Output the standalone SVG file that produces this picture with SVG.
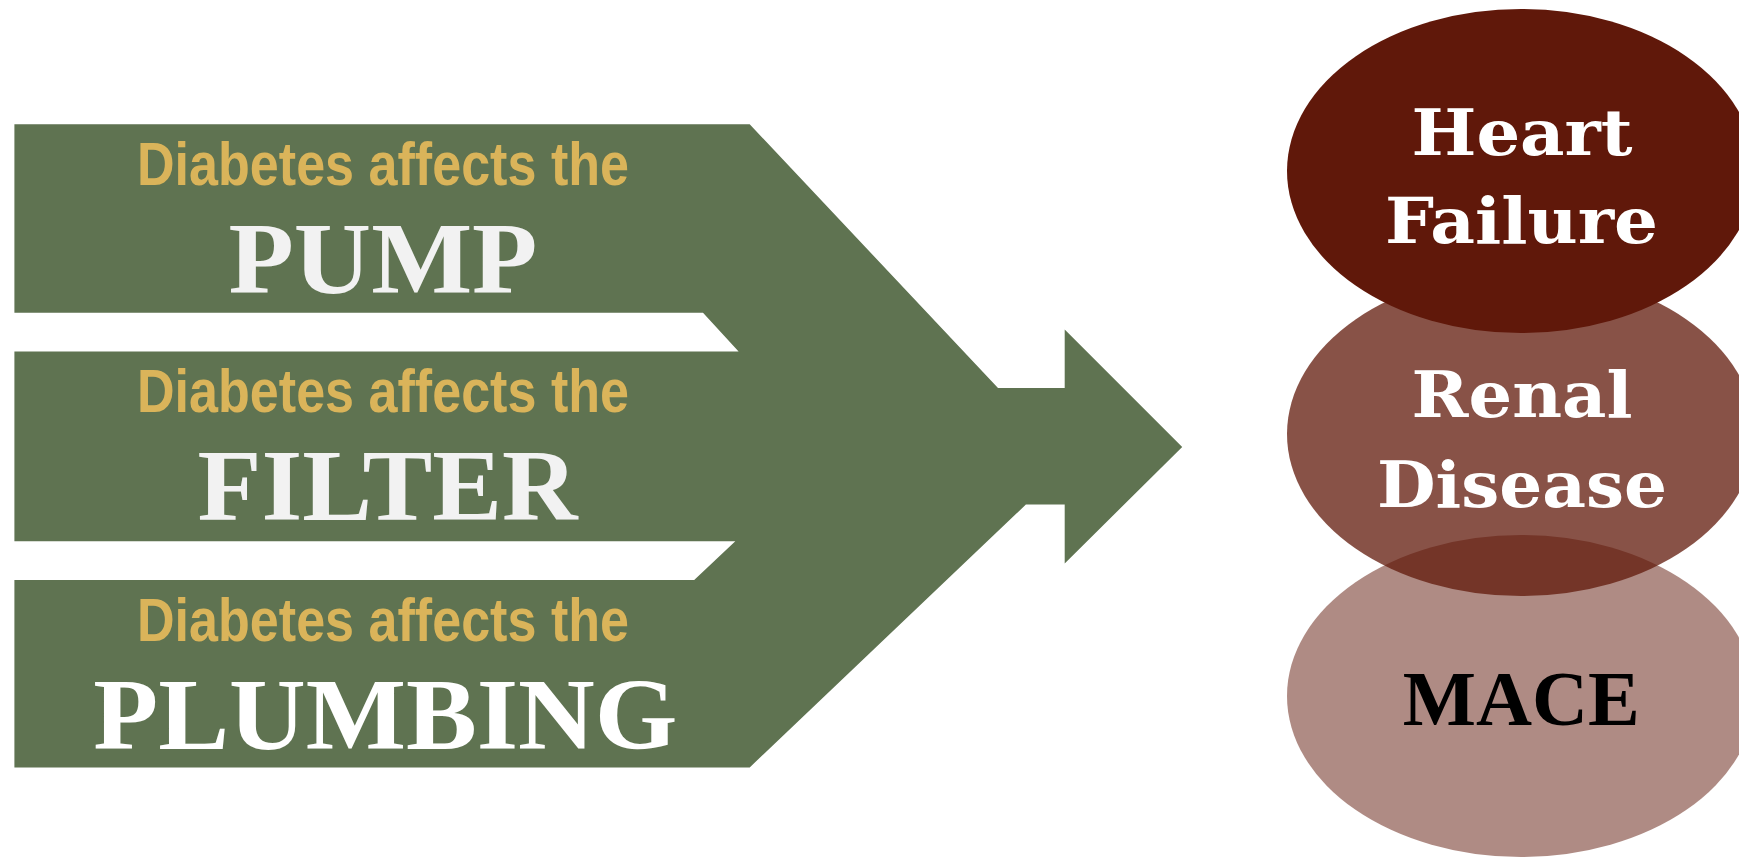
<svg xmlns="http://www.w3.org/2000/svg" width="1739" height="858" viewBox="0 0 1739 858">
<style>
.sub{font-family:"Liberation Sans",Arial,sans-serif;font-weight:bold;font-size:62px;fill:#DAB45A;text-anchor:middle}
.big{font-family:"Liberation Serif","Times New Roman",serif;font-weight:bold;font-size:101px;fill:#F2F2F2;text-anchor:middle}
.lbl{font-family:"DejaVu Serif",Georgia,serif;font-weight:bold;font-size:64px;fill:#FFFFFF;text-anchor:middle}
.mace{font-family:"Liberation Serif","Times New Roman",serif;font-weight:bold;font-size:79px;fill:#000000;text-anchor:middle}
.oval{fill:#60180A}
</style>
<rect width="1739" height="858" fill="#FFFFFF"/>
<g id="connectors">
<path id="arrow" fill="#5F7351" d="M14.4,124.2 L749.7,124.2 L998,388 L1064.7,388 L1064.7,329.4 L1182.2,447 L1064.7,563.4 L1064.7,504.6 L1025.9,504.6 L749.7,767.4 L14.4,767.4 L14.4,580 L694.2,580 L735.3,541.2 L14.4,541.2 L14.4,351.5 L738.6,351.5 L703,312.7 L14.4,312.7 Z"/>
</g>
<g id="pump">
<text class="sub" x="383" y="185" textLength="492" lengthAdjust="spacingAndGlyphs">Diabetes affects the</text>
<text class="big" x="383" y="292.8" textLength="309" lengthAdjust="spacingAndGlyphs">PUMP</text>
</g>
<g id="filter">
<text class="sub" x="383" y="412.3" textLength="492" lengthAdjust="spacingAndGlyphs">Diabetes affects the</text>
<text class="big" x="387.6" y="520" textLength="380" lengthAdjust="spacingAndGlyphs">FILTER</text>
</g>
<g id="plumbing">
<text class="sub" x="383" y="640.8" textLength="492" lengthAdjust="spacingAndGlyphs">Diabetes affects the</text>
<text class="big" x="385.3" y="748.5" textLength="584" lengthAdjust="spacingAndGlyphs" fill="#FFFFFF" style="fill:#FFFFFF">PLUMBING</text>
</g>
<g id="mace">
<ellipse class="oval" cx="1521" cy="696" rx="234" ry="161" fill-opacity="0.5"/>
<text class="mace" x="1521.3" y="725" textLength="237" lengthAdjust="spacingAndGlyphs">MACE</text>
</g>
<g id="renal">
<ellipse class="oval" cx="1521" cy="434" rx="234" ry="162" fill-opacity="0.75"/>
<text class="lbl" x="1522" y="416.7" textLength="221" lengthAdjust="spacingAndGlyphs">Renal</text>
<text class="lbl" x="1522" y="506.7" textLength="290" lengthAdjust="spacingAndGlyphs">Disease</text>
</g>
<g id="heart">
<ellipse class="oval" cx="1521" cy="171" rx="234" ry="162"/>
<text class="lbl" x="1522" y="155" textLength="221" lengthAdjust="spacingAndGlyphs">Heart</text>
<text class="lbl" x="1521.5" y="243.3" textLength="273" lengthAdjust="spacingAndGlyphs">Failure</text>
</g>
</svg>
